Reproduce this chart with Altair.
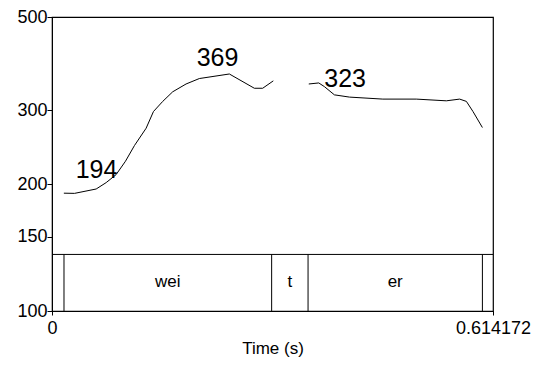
import altair as alt
import pandas as pd

# Pitch contour (time in s, F0 in Hz), two voiced stretches
seg1_t = [0.0165, 0.0314, 0.0615, 0.0755, 0.0893, 0.1023, 0.1149, 0.1311, 0.1413,
          0.1542, 0.1681, 0.1867, 0.2052, 0.2470, 0.2818, 0.2934, 0.3082]
seg1_hz = [190.6, 190.4, 195, 202, 211, 227, 247.5, 272, 298,
           315, 332, 346.5, 357, 366, 338.5, 338.5, 352.5]
seg2_t = [0.3576, 0.3715, 0.3794, 0.3933, 0.4143, 0.4607, 0.5073, 0.5492, 0.5677,
          0.5771, 0.5863, 0.5994]
seg2_hz = [346.5, 348.5, 341.5, 326.5, 322.5, 319, 319, 316, 319, 315, 298, 273]

# Annotated pitch values
ann_text = ["194", "369", "323"]
ann_t = [0.0620, 0.2305, 0.4083]
ann_hz = [207, 383, 341.5]

# Text tier
tier_bounds = [0.0167, 0.3059, 0.3566, 0.5994]
tier_labels = ["wei", "t", "er"]
tier_top_hz = 136.3
tier_text_hz = 117

x_max = 0.614172
y_ticks = [100, 150, 200, 300, 500]

pitch = pd.DataFrame({
    "t": seg1_t + seg2_t,
    "hz": seg1_hz + seg2_hz,
    "seg": ["a"] * len(seg1_t) + ["b"] * len(seg2_t),
})
ann = pd.DataFrame({"t": ann_t, "hz": ann_hz, "label": ann_text})
bounds = pd.DataFrame({"t": tier_bounds, "top": [tier_top_hz] * len(tier_bounds),
                       "bot": [100] * len(tier_bounds)})
tl = pd.DataFrame({
    "t": [(tier_bounds[i] + tier_bounds[i + 1]) / 2 for i in range(3)],
    "hz": [tier_text_hz] * 3,
    "label": tier_labels,
})
hline = pd.DataFrame({"t": [0], "t2": [x_max], "hz": [tier_top_hz]})

xs = alt.Scale(domain=[0, x_max], nice=False, zero=False)
ys = alt.Scale(type="log", domain=[100, 500], nice=False)

x_axis = alt.Axis(values=[0, x_max], format=".6~f", title="Time (s)", grid=False,
                  tickSize=4, labelPadding=4, labelFontSize=18, titleFontSize=17,
                  titleFontWeight="normal", titlePadding=3, labelFlush=False,
                  labelOverlap=False, domainColor="black", tickColor="black",
                  labelColor="black", titleColor="black")
y_axis = alt.Axis(values=y_ticks, title=None, grid=False, tickSize=5, labelPadding=0,
                  labelFontSize=18, domainColor="black", tickColor="black",
                  labelColor="black", labelOverlap=False)

line = alt.Chart(pitch).mark_line(color="black", strokeWidth=1).encode(
    x=alt.X("t:Q", scale=xs, axis=x_axis),
    y=alt.Y("hz:Q", scale=ys, axis=y_axis),
    detail="seg:N",
)
labels = alt.Chart(ann).mark_text(fontSize=25, align="center", baseline="alphabetic",
                                  color="black").encode(
    x=alt.X("t:Q", scale=xs), y=alt.Y("hz:Q", scale=ys), text="label:N")
vrules = alt.Chart(bounds).mark_rule(color="black", strokeWidth=1).encode(
    x=alt.X("t:Q", scale=xs), y=alt.Y("top:Q", scale=ys), y2="bot:Q")
hr = alt.Chart(hline).mark_rule(color="black", strokeWidth=1).encode(
    x=alt.X("t:Q", scale=xs), x2="t2:Q", y=alt.Y("hz:Q", scale=ys))
tier_txt = alt.Chart(tl).mark_text(fontSize=17, align="center", baseline="middle",
                                   color="black").encode(
    x=alt.X("t:Q", scale=xs), y=alt.Y("hz:Q", scale=ys), text="label:N")

chart = alt.layer(line, labels, vrules, hr, tier_txt).properties(
    width=441, height=294,
    autosize=alt.AutoSizeParams(type="none"),
    padding={"left": 44, "top": 9, "right": 38, "bottom": 50},
).configure(font="Liberation Sans").configure_view(stroke="black", strokeWidth=1.2)

chart.save("out.html", embed_options={"renderer": "svg", "actions": False})
